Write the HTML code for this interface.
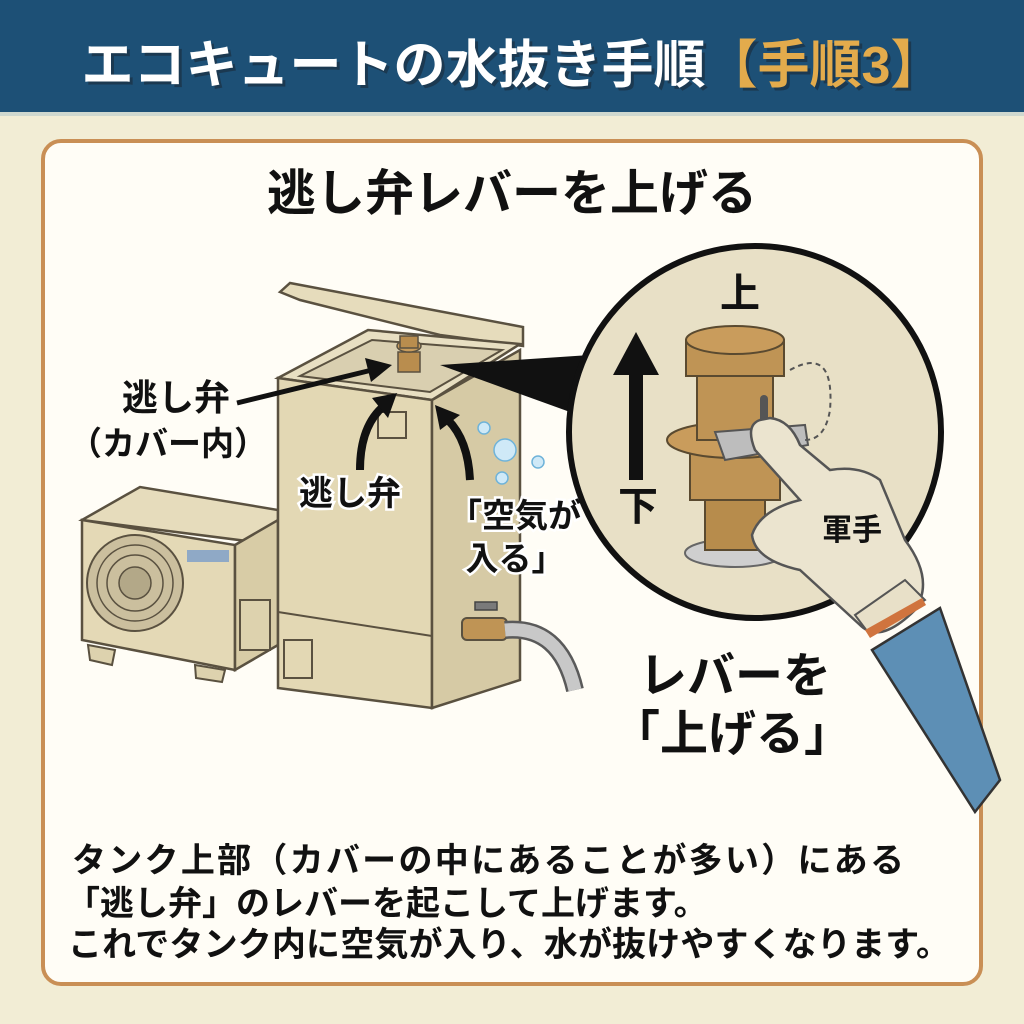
<!DOCTYPE html>
<html><head><meta charset="utf-8"><style>
html,body{margin:0;padding:0;width:1024px;height:1024px;overflow:hidden;background:#f2edd5;}
svg{display:block}
text{font-family:"Liberation Sans","Noto Sans CJK JP",sans-serif;font-weight:bold;}
</style></head><body>
<svg width="1024" height="1024" viewBox="0 0 1024 1024" xmlns="http://www.w3.org/2000/svg">
<rect x="0" y="0" width="1024" height="1024" fill="#f2edd5"/>
<rect x="0" y="0" width="1024" height="114" fill="#1d5076"/>
<rect x="0" y="112" width="1024" height="4" fill="#cfd8cf"/>
<text x="512" y="83" font-size="52" text-anchor="middle" fill="#1a2a3a" opacity="0.6" dx="3" dy="3">エコキュートの水抜き手順<tspan fill="#1a2a3a">【手順3】</tspan></text>
<text x="512" y="83" font-size="52" text-anchor="middle" fill="#ffffff">エコキュートの水抜き手順<tspan fill="#e3ab4c">【手順3】</tspan></text>
<rect x="43" y="141" width="938" height="843" rx="18" fill="#fffdf6" stroke="#c98f55" stroke-width="4"/>
<text x="512" y="210" font-size="49" text-anchor="middle" fill="#111">逃し弁レバーを上げる</text>

<!-- outdoor unit -->
<polygon points="82,520 140,487 278,510 278,545" fill="#e6dcbc" stroke="#5a5140" stroke-width="2.5"/>
<polygon points="82,520 235,545 235,670 82,640" fill="#e4d9b6" stroke="#5a5140" stroke-width="2.5"/>
<polygon points="235,545 278,520 278,645 235,670" fill="#d8cca6" stroke="#5a5140" stroke-width="2.5"/>
<circle cx="135" cy="583" r="48" fill="#cbbf9e" stroke="#5a5140" stroke-width="2"/>
<circle cx="135" cy="583" r="38" fill="none" stroke="#5a5140" stroke-width="1.5"/>
<circle cx="135" cy="583" r="28" fill="none" stroke="#5a5140" stroke-width="1.5"/>
<circle cx="135" cy="583" r="16" fill="#b3a888" stroke="#5a5140" stroke-width="1.5"/>
<rect x="187" y="550" width="42" height="12" fill="#8fa9c6"/>
<rect x="240" y="600" width="30" height="50" fill="#ddd2ae" stroke="#5a5140" stroke-width="2"/>
<polygon points="88,645 115,650 112,665 90,660" fill="#ddd2ae" stroke="#5a5140" stroke-width="2"/>
<polygon points="195,665 225,670 222,682 196,678" fill="#ddd2ae" stroke="#5a5140" stroke-width="2"/>

<!-- tank -->
<polygon points="280,292 290,283 523,327 523,346 440,335 300,300" fill="#e6dcbc" stroke="#5a5140" stroke-width="2.5"/>
<polygon points="278,378 368,330 520,344 432,400" fill="#e8dfc2" stroke="#5a5140" stroke-width="2.5"/>
<polygon points="300,376 372,340 502,350 430,392" fill="#d9cfb0" stroke="#5a5140" stroke-width="2"/>
<polygon points="278,378 432,400 432,708 278,688" fill="#e3d8b4" stroke="#5a5140" stroke-width="2.5"/>
<polygon points="432,400 520,350 520,680 432,708" fill="#d6caa5" stroke="#5a5140" stroke-width="2.5"/>
<line x1="278" y1="612" x2="432" y2="636" stroke="#5a5140" stroke-width="2"/>
<rect x="284" y="640" width="28" height="38" fill="none" stroke="#5a5140" stroke-width="2"/>
<rect x="378" y="412" width="28" height="26" fill="none" stroke="#5a5140" stroke-width="2"/>
<rect x="398" y="352" width="22" height="20" fill="#b98d4e" stroke="#5a5140" stroke-width="1.5"/>
<ellipse cx="409" cy="346" rx="12" ry="6" fill="#c99c5c" stroke="#5a5140" stroke-width="1.5"/>
<rect x="400" y="336" width="18" height="12" fill="#b98d4e" stroke="#5a5140" stroke-width="1.5"/>
<rect x="462" y="618" width="45" height="22" rx="5" fill="#bf9455" stroke="#5a5140" stroke-width="2"/>
<rect x="475" y="602" width="22" height="8" fill="#7a7a7a" stroke="#444" stroke-width="1.5"/>
<path d="M505,630 Q560,625 575,690" fill="none" stroke="#5a5a5a" stroke-width="18"/>
<path d="M505,630 Q560,625 575,690" fill="none" stroke="#c8c8c8" stroke-width="13"/>
<circle cx="484" cy="428" r="6" fill="#cfe9f7" stroke="#6fb3d9" stroke-width="1.5"/>
<circle cx="505" cy="450" r="11" fill="#cfe9f7" stroke="#6fb3d9" stroke-width="1.5"/>
<circle cx="538" cy="462" r="6" fill="#cfe9f7" stroke="#6fb3d9" stroke-width="1.5"/>
<circle cx="502" cy="478" r="6" fill="#cfe9f7" stroke="#6fb3d9" stroke-width="1.5"/>

<!-- arrows left -->
<line x1="237" y1="403" x2="372" y2="370" stroke="#111" stroke-width="5"/>
<polygon points="392,365 365,358 371,382" fill="#111"/>
<path d="M360,470 Q360,425 385,405" fill="none" stroke="#111" stroke-width="8"/>
<polygon points="397,393 372,398 388,418" fill="#111"/>
<path d="M470,480 Q468,440 448,420" fill="none" stroke="#111" stroke-width="8"/>
<polygon points="435,405 440,430 460,415" fill="#111"/>
<text x="176" y="410" font-size="36" text-anchor="middle" fill="#111">逃し弁</text>
<text x="168" y="455" font-size="33" text-anchor="middle" fill="#111">（カバー内）</text>
<text x="350" y="505" font-size="34" text-anchor="middle" fill="#111" stroke="#fff" stroke-width="5" paint-order="stroke">逃し弁</text>
<text x="515" y="527" font-size="33" text-anchor="middle" fill="#111" stroke="#fff" stroke-width="5" paint-order="stroke">「空気が</text>
<text x="515" y="570" font-size="33" text-anchor="middle" fill="#111" stroke="#fff" stroke-width="5" paint-order="stroke">入る」</text>

<polygon points="440,365 590,355 570,412" fill="#111"/>

<!-- circle zoom -->
<circle cx="755" cy="432" r="186" fill="#e8e0c6" stroke="#111" stroke-width="6"/>
<text x="740" y="307" font-size="40" text-anchor="middle" fill="#111">上</text>
<rect x="629" y="370" width="14" height="110" fill="#111"/>
<polygon points="613,375 636,332 659,375" fill="#111"/>
<text x="638" y="520" font-size="40" text-anchor="middle" fill="#111">下</text>
<ellipse cx="735" cy="553" rx="50" ry="14" fill="#cfcfcf" stroke="#666" stroke-width="2"/>
<rect x="705" y="490" width="60" height="60" fill="#b78c4c" stroke="#5a4a30" stroke-width="2"/>
<rect x="690" y="450" width="90" height="50" fill="#bf9455" stroke="#5a4a30" stroke-width="2"/>
<ellipse cx="735" cy="440" rx="68" ry="18" fill="#c99c5c" stroke="#5a4a30" stroke-width="2"/>
<rect x="697" y="360" width="76" height="80" fill="#bf9455" stroke="#5a4a30" stroke-width="2"/>
<rect x="686" y="340" width="98" height="36" fill="#bf9455" stroke="#5a4a30" stroke-width="2"/>
<ellipse cx="735" cy="340" rx="49" ry="14" fill="#c99c5c" stroke="#5a4a30" stroke-width="2"/>
<polygon points="715,432 805,425 808,445 725,460" fill="#bdbdbd" stroke="#555" stroke-width="2"/>
<rect x="760" y="395" width="8" height="30" rx="4" fill="#555"/>
<path d="M790,370 Q835,345 830,410 Q825,440 805,440" fill="none" stroke="#555" stroke-width="2" stroke-dasharray="5,4"/>
<!-- arm and glove -->
<polygon points="872,650 940,608 1000,780 975,812" fill="#5d8fb5" stroke="#333" stroke-width="2.5"/>
<path d="M760,420 Q745,425 755,450 L800,500 Q760,510 752,535 Q755,560 800,570 L860,625 Q880,645 915,610 Q935,580 905,540 L880,480 Q860,465 830,470 L800,445 Q790,420 770,418 Z" fill="#ebe4cf" stroke="#555" stroke-width="2.5"/>
<polygon points="855,615 905,580 925,600 870,635" fill="#e8e0c8" stroke="#555" stroke-width="2"/>
<polygon points="865,630 922,598 926,605 870,638" fill="#d0743e"/>
<text x="852" y="540" font-size="30" text-anchor="middle" fill="#111">軍手</text>

<text x="735" y="692" font-size="48" text-anchor="middle" fill="#111">レバーを</text>
<text x="732" y="750" font-size="48" text-anchor="middle" fill="#111">「上げる」</text>

<text x="72" y="872" font-size="34" fill="#111" textLength="832">タンク上部（カバーの中にあることが多い）にある</text>
<text x="66" y="915" font-size="34" fill="#111">「逃し弁」のレバーを起こして上げます。</text>
<text x="68" y="956" font-size="34" fill="#111" textLength="882">これでタンク内に空気が入り、水が抜けやすくなります。</text>
</svg>
</body></html>
